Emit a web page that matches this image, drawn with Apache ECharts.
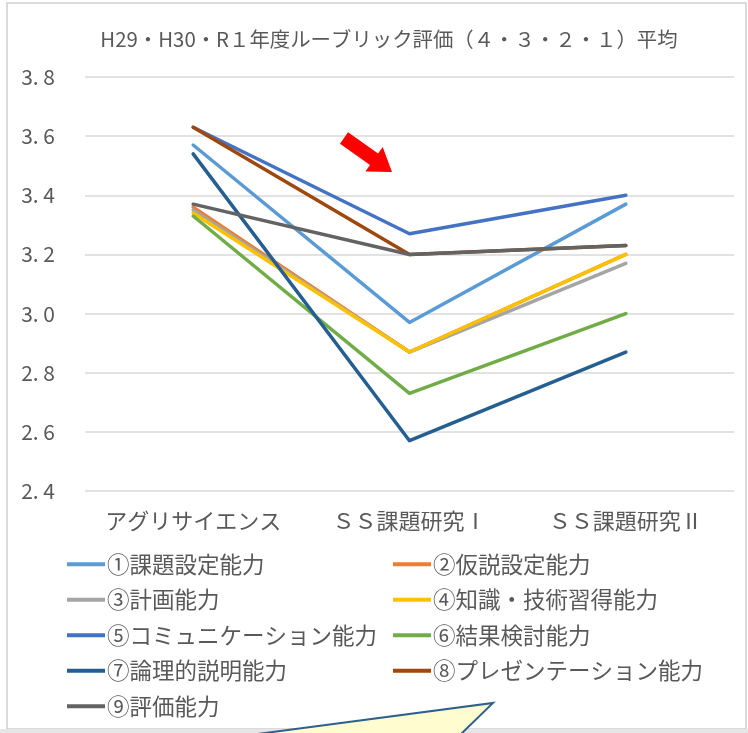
<!DOCTYPE html>
<html>
<head>
<meta charset="utf-8">
<script src="https://cdn.jsdelivr.net/npm/echarts@6/dist/echarts.min.js"></script>
<style>
  html, body { margin: 0; padding: 0; background: #ffffff; }
  #chart { width: 748px; height: 733px; }
</style>
</head>
<body>
<div id="chart"></div>
<script>
// Categories (x axis)
const categories = ['アグリサイエンス', 'ＳＳ課題研究Ⅰ', 'ＳＳ課題研究Ⅱ'];

// Series names
const names = [
  '①課題設定能力', '②仮説設定能力', '③計画能力', '④知識・技術習得能力',
  '⑤コミュニケーション能力', '⑥結果検討能力', '⑦論理的説明能力',
  '⑧プレゼンテーション能力', '⑨評価能力'
];

// Average rubric scores per category
const s1 = [3.57, 2.97, 3.37];
const s2 = [3.36, 2.87, 3.20];
const s3 = [3.35, 2.87, 3.17];
const s4 = [3.34, 2.87, 3.20];
const s5 = [3.63, 3.27, 3.40];
const s6 = [3.33, 2.73, 3.00];
const s7 = [3.54, 2.57, 2.87];
const s8 = [3.63, 3.20, 3.23];
const s9 = [3.37, 3.20, 3.23];

// Y axis ticks
const yMin = 2.4, yMax = 3.8, yStep = 0.2;

const colors = ['#5B9BD5', '#ED7D31', '#A5A5A5', '#FFC000', '#4472C4',
                '#70AD47', '#255E91', '#9E480E', '#636363'];
const values = [s1, s2, s3, s4, s5, s6, s7, s8, s9];

const FONT = '"Noto Sans CJK JP", "Noto Sans", sans-serif';
const TEXT = '#595959';

const chart = echarts.init(document.getElementById('chart'), null, { renderer: 'canvas' });

// Red arrow polygon pointing down-right
function arrowPoints(tx, ty, hx, hy, shaftHalf, headHalf, headLen) {
  const dx = hx - tx, dy = hy - ty;
  const len = Math.sqrt(dx * dx + dy * dy);
  const ux = dx / len, uy = dy / len;
  const nx = -uy, ny = ux;
  const bx = hx - headLen * ux, by = hy - headLen * uy;
  return [
    [tx + shaftHalf * nx, ty + shaftHalf * ny],
    [bx + shaftHalf * nx, by + shaftHalf * ny],
    [bx + headHalf * nx, by + headHalf * ny],
    [hx, hy],
    [bx - headHalf * nx, by - headHalf * ny],
    [bx - shaftHalf * nx, by - shaftHalf * ny],
    [tx - shaftHalf * nx, ty - shaftHalf * ny]
  ];
}

const legendStyle = {
  orient: 'vertical',
  icon: 'rect',
  itemWidth: 38,
  itemHeight: 4,
  itemGap: 13,
  textStyle: { fontSize: 22.5, color: TEXT, fontFamily: FONT, lineHeight: 22, padding: [0, 0, 0, -3] }
};

chart.setOption({
  animation: false,
  color: colors,
  title: {
    text: 'H29・H30・R１年度ルーブリック評価（４・３・２・１）平均',
    left: 384,
    textAlign: 'center',
    top: 24,
    textStyle: { fontSize: 20.4, fontWeight: 'normal', color: TEXT, fontFamily: FONT }
  },
  legend: [
    Object.assign({ left: 62, top: 548, data: [names[0], names[2], names[4], names[6], names[8]] }, legendStyle),
    Object.assign({ left: 388, top: 548, data: [names[1], names[3], names[5], names[7]] }, legendStyle)
  ],
  grid: { left: 85, right: 14, top: 77, bottom: 242, containLabel: false },
  xAxis: {
    type: 'category',
    data: categories,
    boundaryGap: true,
    axisLine: { show: false },
    axisTick: { show: false },
    axisLabel: { interval: 0, hideOverlap: false, fontSize: 22, color: TEXT, fontFamily: FONT, margin: 19 }
  },
  yAxis: {
    type: 'value',
    min: yMin, max: yMax, interval: yStep,
    axisLine: { show: false },
    axisTick: { show: false },
    splitLine: { lineStyle: { color: '#D9D9D9', width: 1.5 } },
    axisLabel: {
      fontSize: 21, color: TEXT, fontFamily: FONT, margin: 30,
      formatter: v => v.toFixed(1).replace('.', '. ')
    }
  },
  series: values.map((v, i) => ({
    name: names[i],
    type: 'line',
    data: v,
    symbol: 'none',
    lineStyle: { width: 3.5, color: colors[i], cap: 'round', join: 'round' },
    itemStyle: { color: colors[i] },
    z: 2 + i
  })),
  graphic: [
    // frame of the chart area
    { type: 'rect', shape: { x: 7, y: 3, width: 739, height: 726 }, style: { fill: 'none', stroke: '#D0D0D0', lineWidth: 1.5 }, z: -1 },
    { type: 'rect', shape: { x: 0, y: 729, width: 748, height: 4 }, style: { fill: '#E6E6E6' }, z: -1 },
    // red arrow
    { type: 'polygon', shape: { points: arrowPoints(344, 138, 392, 172, 7, 15, 22) }, style: { fill: '#FF0000' }, z: 20 },
    // callout shape at the bottom
    { type: 'polygon', shape: { points: [[250, 735], [493, 703], [460, 735]] }, style: { fill: '#FFFDD0', stroke: '#2F5F8F', lineWidth: 2 }, z: 20 }
  ]
});
</script>
</body>
</html>
